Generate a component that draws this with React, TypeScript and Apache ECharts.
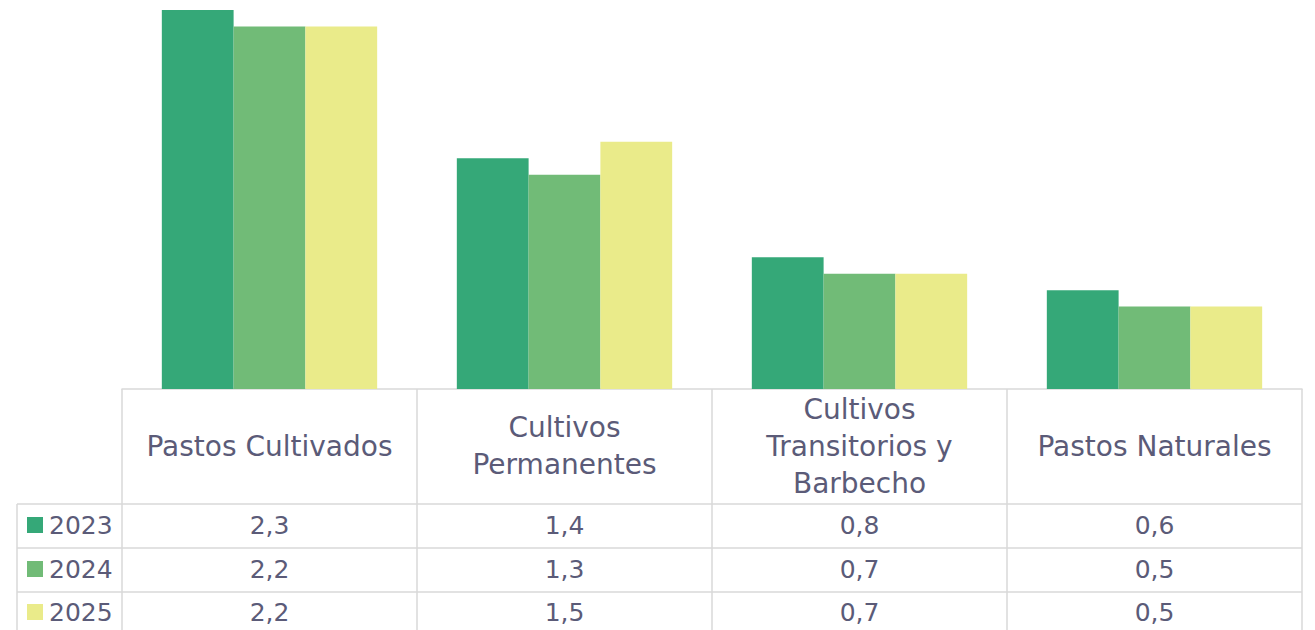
import React, { useEffect, useRef } from "react";
import * as echarts from "echarts";

const categories = [
  "Pastos Cultivados",
  "Cultivos\nPermanentes",
  "Cultivos\nTransitorios y\nBarbecho",
  "Pastos Naturales",
];
const years = ["2023", "2024", "2025"];
const values2023 = [2.3, 1.4, 0.8, 0.6];
const values2024 = [2.2, 1.3, 0.7, 0.5];
const values2025 = [2.2, 1.5, 0.7, 0.5];
const seriesValues = [values2023, values2024, values2025];
const colors = ["#35a878", "#71bb77", "#eaeb8a"];

const FONT = "DejaVu Sans";
const FONT_SIZE = 25;
const HEADER_SIZE = 28;
const TEXT_COLOR = "#5b5b78";
const LINE_COLOR = "#d9d9d9";

export default function App() {
  const ref = useRef<HTMLDivElement>(null);
  useEffect(() => {
    document.body.style.margin = "0";
    const chart = echarts.init(ref.current!, undefined, { renderer: "svg" });
    const gridLeft = 122;
    const gridTop = 10;
    const gridWidth = 1180;
    const gridHeight = 379;
    const rowLines = [504, 548, 592];
    const rowCenters = [525, 569, 612];
    const option: any = {
      animation: false,
      textStyle: { fontFamily: FONT },
      grid: { left: gridLeft, top: gridTop, width: gridWidth, height: gridHeight },
      legend: { show: false, data: years },
      xAxis: {
        type: "category",
        data: categories,
        boundaryGap: true,
        axisLine: { show: true, lineStyle: { color: LINE_COLOR, width: 1.5 } },
        axisTick: { show: true, interval: 0, length: 250, lineStyle: { color: LINE_COLOR, width: 1.5 } },
        axisLabel: {
          interval: 0,
          margin: 57,
          verticalAlign: "middle",
          fontFamily: FONT,
          fontSize: HEADER_SIZE,
          lineHeight: 37,
          color: TEXT_COLOR,
        },
      },
      yAxis: { type: "value", min: 0, max: 2.3, show: false },
      series: years.map((y, i) => ({
        name: y,
        type: "bar",
        data: seriesValues[i],
        barGap: "0%",
        barCategoryGap: "27%",
        itemStyle: { color: colors[i] },
      })),
    };
    chart.setOption(option);
    const graphics: any[] = [];
    rowLines.forEach((y) => {
      graphics.push({
        type: "line",
        shape: { x1: 17, y1: y, x2: gridLeft + gridWidth, y2: y },
        style: { stroke: LINE_COLOR, lineWidth: 1.5 },
      });
    });
    graphics.push({
      type: "line",
      shape: { x1: 17, y1: rowLines[0], x2: 17, y2: 640 },
      style: { stroke: LINE_COLOR, lineWidth: 1.5 },
    });
    years.forEach((yr, r) => {
      graphics.push({
        type: "rect",
        shape: { x: 27, y: rowCenters[r] - 8, width: 16, height: 16 },
        style: { fill: colors[r] },
      });
      graphics.push({
        type: "text",
        x: 49,
        y: rowCenters[r],
        style: {
          text: yr,
          fontFamily: FONT,
          fontSize: FONT_SIZE,
          fill: TEXT_COLOR,
          textAlign: "left",
          textVerticalAlign: "middle",
        },
      });
    });
    seriesValues.forEach((vals, r) => {
      vals.forEach((v, c) => {
        const x = chart.convertToPixel({ xAxisIndex: 0 }, c) as number;
        graphics.push({
          type: "text",
          x,
          y: rowCenters[r],
          style: {
            text: v.toFixed(1).replace(".", ","),
            fontFamily: FONT,
            fontSize: FONT_SIZE,
            fill: TEXT_COLOR,
            textAlign: "center",
            textVerticalAlign: "middle",
          },
        });
      });
    });
    chart.setOption({ graphic: graphics });
    return () => chart.dispose();
  }, []);
  return <div ref={ref} style={{ width: 1315, height: 630 }} />;
}
